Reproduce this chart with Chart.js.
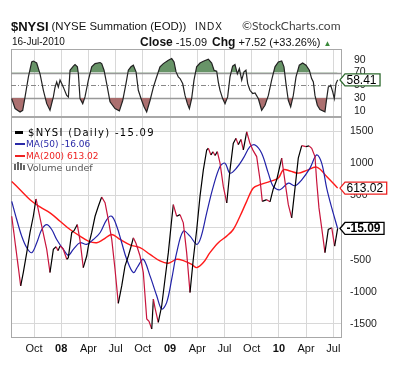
<!DOCTYPE html>
<html>
<head>
<meta charset="utf-8">
<script src="https://cdn.jsdelivr.net/npm/chart.js@4.4.0/dist/chart.umd.min.js"></script>
<style>
body{margin:0;background:#fff;width:411px;height:372px;overflow:hidden;position:relative;font-family:"Liberation Sans",Arial,sans-serif;color:#111;}
canvas{position:absolute;left:0;top:0;}
.t{position:absolute;white-space:nowrap;line-height:1;}
.lg{position:absolute;white-space:nowrap;line-height:1;font-family:"DejaVu Sans",Verdana,sans-serif;}
.dash{position:absolute;}
</style>
</head>
<body>
<canvas id="rsi" width="411" height="372"></canvas>
<canvas id="main" width="411" height="372"></canvas>

<div class="t" style="left:11px;top:19.5px;font-size:13px;font-weight:bold">$NYSI</div>
<div class="t" style="left:51.5px;top:21px;font-size:11.4px">(NYSE Summation (EOD))</div>
<div class="t" style="left:195px;top:22px;font-size:10px;letter-spacing:1px">INDX</div>
<div class="t" style="left:242px;top:20px;font-size:12px;font-family:Lato,sans-serif;color:#444">©StockCharts.com</div>
<div class="t" style="left:12px;top:37.4px;font-size:10px">16-Jul-2010</div>
<div class="t" style="right:204px;top:35.7px;font-size:11px"><b style="font-size:12px">Close</b> -15.09</div>
<div class="t" style="left:212px;top:35.7px;font-size:11px"><b style="font-size:12px">Chg</b> +7.52 (+33.26%) <span style="color:#3a8a3a;font-size:8px">&#9650;</span></div>

<div class="dash" style="left:15px;top:131px;width:8px;height:2.5px;background:#000"></div>
<div class="lg" style="left:28px;top:127.5px;font-size:10px;letter-spacing:1.3px;color:#000">$NYSI (Daily) -15.09</div>
<div class="dash" style="left:15px;top:143px;width:10px;height:2px;background:#2a2aa8"></div>
<div class="lg" style="left:26px;top:140px;font-size:9px;color:#2a2aa8">MA(50) -16.06</div>
<div class="dash" style="left:15px;top:154.5px;width:10px;height:2px;background:#ee2222"></div>
<div class="lg" style="left:26px;top:151.5px;font-size:9px;color:#ee2222">MA(200) 613.02</div>
<div class="dash" style="left:14px;top:164px;width:2px;height:6px;background:#666"></div>
<div class="dash" style="left:17px;top:162px;width:2px;height:8px;background:#666"></div>
<div class="dash" style="left:20px;top:163px;width:2px;height:7px;background:#666"></div>
<div class="dash" style="left:23px;top:165px;width:2px;height:5px;background:#666"></div>
<div class="lg" style="left:27px;top:162.5px;font-size:9.5px;color:#555">Volume undef</div>

<script>
// months counted from Jan 2007 (Oct 2007 = 9, Jan 2008 = 12 ...)
var xTickPos = [9, 12, 15, 18, 21, 24, 27, 30, 33, 36, 39, 42];
var xTickLabels = ['Oct', '08', 'Apr', 'Jul', 'Oct', '09', 'Apr', 'Jul', 'Oct', '10', 'Apr', 'Jul'];
var yTicks = [-1500, -1000, -500, 0, 500, 1000, 1500];
var rsiTicks = [10, 30, 50, 70, 90];
var rsiLevels = [30, 50, 70];

var nysiT = [6.54,7.53,7.82,8.20,8.56,8.92,9.22,9.47,9.85,10.40,10.76,11.13,11.43,11.65,11.87,12.20,12.61,12.78,13.16,13.41,13.77,14.07,14.43,14.81,14.99,15.36,15.73,16.09,16.46,16.83,17.19,17.57,17.93,18.29,18.67,19.03,19.40,19.69,19.95,20.25,20.69,21.05,21.43,21.68,21.98,22.16,22.34,22.70,23.08,23.44,23.81,24.18,24.36,24.73,25.10,25.46,25.83,26.20,26.56,26.94,27.30,27.67,28.04,28.22,28.51,28.73,28.96,29.21,29.51,29.87,30.25,30.61,30.97,31.27,31.52,31.82,32.08,32.45,32.81,33.15,33.55,33.92,34.17,34.66,35.02,35.38,35.76,36.31,36.67,37.04,37.41,37.78,38.14,38.52,38.99,39.32,39.62,39.98,40.17,40.42,40.72,41.08,41.45,41.83,42.15,42.48];
var nysiV = [175,-909,-697,-387,-77,175,444,279,20,-340,-701,-340,-300,-360,-289,-330,-495,-470,-77,-50,46,-200,-624,-444,-289,-77,175,330,475,387,124,-186,-650,-1180,-909,-600,-444,-300,-160,-250,-444,-701,-1424,-1460,-1579,-1115,-1250,-1475,-1218,-805,-392,124,356,175,200,72,-392,-1011,-495,-31,485,898,1207,1233,1130,1180,1120,1181,1001,639,382,898,1310,1388,1290,1370,1207,1490,1310,1200,1104,743,407,433,400,600,743,1079,717,356,150,614,1079,1274,1260,1270,1233,1104,717,305,-5,-392,-31,-5,-289,-15.09];

var ma50T = [6.54,7.09,7.64,8.20,8.75,9.30,9.85,10.40,10.95,11.50,12.23,12.78,13.33,14.07,14.81,15.54,16.28,17.02,17.57,18.12,18.67,19.22,19.95,20.47,21.05,21.79,22.53,23.08,23.63,24.18,24.73,25.46,26.20,26.94,27.41,28.04,28.77,29.51,30.06,30.61,31.35,32.08,32.81,33.37,34.10,34.83,35.38,36.12,37.04,37.78,38.52,39.43,40.17,40.72,41.27,41.83,42.48];
var ma50V = [407,124,-134,-315,-392,-237,-31,46,-31,-186,-340,-433,-340,-237,-263,-186,-82,124,175,20,-237,-495,-701,-600,-495,-753,-1063,-1269,-1166,-805,-392,-57,-134,-263,-150,227,639,949,1001,846,930,1079,1258,1285,1156,846,639,588,691,650,743,924,1130,1001,614,305,-16.06];

var ma200T = [6.54,7.46,8.56,9.66,10.76,11.87,12.97,14.07,14.99,15.91,16.64,17.57,18.48,19.58,20.69,21.79,22.89,23.81,24.73,25.54,26.39,26.94,27.67,28.40,29.32,30.25,30.97,31.71,32.45,33.18,33.92,35.02,35.94,36.49,37.23,38.14,39.07,40.17,41.27,42.48];
var ma200V = [717,588,433,320,227,98,-31,-134,-212,-237,-186,-108,-186,-270,-315,-418,-521,-557,-495,-520,-573,-624,-546,-392,-237,-134,-31,175,407,614,666,717,769,898,880,846,890,940,795,613.02];

var rsiT = [6.54,6.91,7.46,7.75,8.01,8.38,8.74,8.93,9.29,9.66,10.03,10.40,10.76,11.13,11.32,11.50,11.68,11.87,12.05,12.23,12.60,12.79,12.97,13.34,13.52,13.78,13.89,14.07,14.37,14.62,14.99,15.36,15.73,16.28,16.46,16.72,17.01,17.38,17.93,18.41,18.78,19.14,19.40,19.69,19.95,20.25,20.50,20.87,21.13,21.42,21.79,22.16,22.52,22.89,23.26,23.81,24.18,24.44,24.66,24.91,25.10,25.39,25.65,25.91,26.13,26.38,26.64,26.93,27.30,27.67,28.22,28.59,28.85,29.14,29.32,29.51,29.80,30.06,30.35,30.61,30.90,31.16,31.42,31.64,31.90,32.15,32.37,32.56,32.81,33.11,33.37,33.73,34.10,34.47,34.84,35.20,35.57,35.94,36.31,36.56,36.78,37.04,37.30,37.59,37.89,38.25,38.62,38.99,39.36,39.61,39.80,39.98,40.24,40.53,41.08,41.27,41.45,41.71,41.93,42.11,42.30,42.48];
var rsiV = [29,13.3,8,10.6,31.6,63,86.7,88,85,68,42,21,10.6,31.6,47,55,47,58,52.6,47,34,31.6,73.6,80,82.5,79,68,29,21,31.6,58,79,84,85.7,84,73.6,52.6,23.8,13.3,9.6,26,52.6,73.6,79,81.5,71,42,26,16,8,26,47,63,79,84,89.4,92,86.7,71,63,60.5,52.6,34,21,13,29,58,79,85,87.8,91,85,73.6,72,55,42,29,21,31.6,63,80,82.5,68,76,58,71,73.6,52.6,42,37,38,29,10.6,18.5,34,58,79,86.7,88.3,79,52.6,26,16,34,63,81.5,85,81.5,73.6,60.5,55,34,18.5,11.7,8,29,47,50,40,29,52.6,58.41];

function pts(t, v) {
	var out = [];
	for (var i = 0; i < t.length; i++) out.push({x: t[i], y: v[i]});
	return out;
}

Chart.defaults.font.family = '"Liberation Sans", Arial, sans-serif';
Chart.defaults.color = '#222';
Chart.defaults.animation = false;

var X_MIN = 6.46, X_MAX = 42.96;
var GRID = '#d8d8d8', FRAME = '#a8a8a8';

var framePlugin = {
	id: 'frame',
	beforeDatasetsDraw: function(chart) {
		var a = chart.chartArea, c = chart.ctx;
		c.save();
		c.strokeStyle = FRAME;
		c.lineWidth = 1;
		c.strokeRect(a.left + 0.5, a.top + 0.5, a.right - a.left - 1, a.bottom - a.top - 1);
		c.restore();
	}
};

var levelPlugin = {
	id: 'levels',
	beforeDatasetsDraw: function(chart) {
		var a = chart.chartArea, c = chart.ctx, y = chart.scales.y;
		c.save();
		rsiLevels.forEach(function(v) {
			var p = Math.round(y.getPixelForValue(v)) + 0.5;
			c.beginPath();
			if (v === 50) { c.setLineDash([5, 2, 1, 2]); c.strokeStyle = '#888'; c.lineWidth = 1; }
			else { c.setLineDash([]); c.strokeStyle = '#999'; c.lineWidth = 1.5; }
			c.moveTo(a.left, p); c.lineTo(a.right, p); c.stroke();
		});
		c.restore();
	}
};

function drawTag(c, x, y, text, color, bold) {
	c.save();
	c.font = (bold ? 'bold ' : '') + '12px "Liberation Sans", Arial, sans-serif';
	var w = c.measureText(text).width + 5, h = 12;
	c.beginPath();
	c.moveTo(x, y);
	c.lineTo(x + 5, y - h / 2);
	c.lineTo(x + 5 + w, y - h / 2);
	c.lineTo(x + 5 + w, y + h / 2);
	c.lineTo(x + 5, y + h / 2);
	c.closePath();
	c.fillStyle = '#fff';
	c.fill();
	c.lineWidth = 1.3;
	c.strokeStyle = color;
	c.stroke();
	c.fillStyle = '#000';
	c.textBaseline = 'middle';
	c.fillText(text, x + 6.5, y + 0.5);
	c.restore();
}

var tagPlugin = {
	id: 'tags',
	afterDraw: function(chart, args, opts) {
		var y = chart.scales.y, x = chart.chartArea.right - 2;
		opts.items.forEach(function(it) {
			drawTag(chart.ctx, x, y.getPixelForValue(it.value), it.value.toFixed(2), it.color, it.bold);
		});
	}
};

function fixWidth(w) { return function(s) { s.width = w; }; }
function fixHeight(h) { return function(s) { s.height = h; }; }

var xScale = function(showLabels, h) {
	return {
		type: 'linear', min: X_MIN, max: X_MAX,
		afterBuildTicks: function(s) { s.ticks = xTickPos.map(function(v) { return {value: v}; }); },
		afterFit: fixHeight(h),
		grid: {color: GRID, drawTicks: false},
		border: {display: false},
		ticks: {
			display: showLabels, padding: 4, maxRotation: 0, autoSkip: false,
			color: '#111',
			font: function(ctx) { return {size: 11, weight: /^\d/.test(xTickLabels[ctx.index]) ? 'bold' : 'normal'}; },
			callback: function(v, i) { return xTickLabels[i]; }
		}
	};
};

new Chart(document.getElementById('rsi'), {
	type: 'line',
	data: {
		datasets: [
			{data: pts(rsiT, rsiV), borderColor: '#222', borderWidth: 1.2, pointRadius: 0, tension: 0,
			 fill: {target: {value: 70}, above: 'rgba(96,142,96,0.95)', below: 'rgba(0,0,0,0)'}},
			{data: pts(rsiT, rsiV), borderWidth: 0, borderColor: 'rgba(0,0,0,0)', pointRadius: 0, tension: 0,
			 fill: {target: {value: 30}, above: 'rgba(0,0,0,0)', below: 'rgba(168,104,104,0.95)'}}
		]
	},
	options: {
		responsive: false,
		layout: {padding: {left: 11, top: 49, right: 0, bottom: 255}},
		plugins: {legend: {display: false}, tooltip: {enabled: false},
			tags: {items: [{value: rsiV[rsiV.length - 1], color: '#2f6a2f', bold: false}]}},
		scales: {
			x: xScale(false, 0),
			y: {
				position: 'right', min: 0, max: 107,
				afterBuildTicks: function(s) { s.ticks = rsiTicks.map(function(v) { return {value: v}; }); },
				afterFit: fixWidth(69),
				grid: {display: false},
				border: {display: false},
				ticks: {padding: 4, font: {size: 10.5}, color: '#222'}
			}
		}
	},
	plugins: [framePlugin, levelPlugin, tagPlugin]
});

new Chart(document.getElementById('main'), {
	type: 'line',
	data: {
		datasets: [
			{data: pts(nysiT, nysiV), borderWidth: 1.2, pointRadius: 0, tension: 0, borderColor: '#000',
			 segment: {borderColor: function(ctx) { return ctx.p1.parsed.y < ctx.p0.parsed.y ? '#c8143c' : '#000'; }}},
			{data: pts(ma50T, ma50V), borderColor: '#2222a8', borderWidth: 1.2, pointRadius: 0, tension: 0.35},
			{data: pts(ma200T, ma200V), borderColor: '#ff1a1a', borderWidth: 1.4, pointRadius: 0, tension: 0.35}
		]
	},
	options: {
		responsive: false,
		layout: {padding: {left: 11, top: 117, right: 0, bottom: 14}},
		plugins: {legend: {display: false}, tooltip: {enabled: false},
			tags: {items: [
				{value: ma200V[ma200V.length - 1], color: '#ee2222', bold: false},
				{value: nysiV[nysiV.length - 1], color: '#000', bold: true}
			]}},
		scales: {
			x: xScale(true, 20),
			y: {
				position: 'right', min: -1720, max: 1720,
				afterBuildTicks: function(s) { s.ticks = yTicks.map(function(v) { return {value: v}; }); },
				afterFit: fixWidth(69),
				grid: {color: GRID, drawTicks: false},
				border: {display: false},
				ticks: {padding: 8, font: {size: 10.5}, color: '#222', callback: function(v) { return String(v); }}
			}
		}
	},
	plugins: [framePlugin, tagPlugin]
});
</script>
</body>
</html>
